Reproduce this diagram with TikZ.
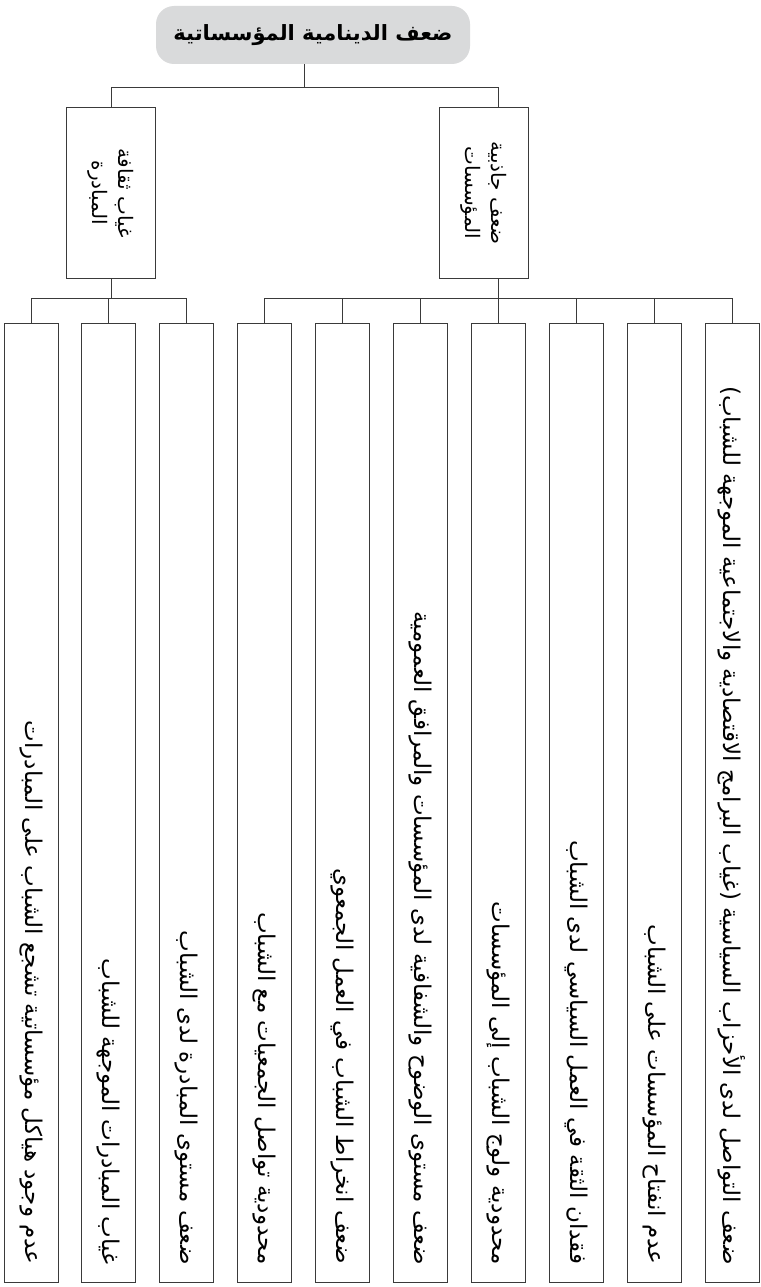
\documentclass[tikz,border=0pt]{standalone}
\usepackage{fontspec}
\usepackage{graphicx}
\newfontfamily\arabicfont[Script=Arabic]{DejaVu Sans}
\TeXXeTstate=1
\usetikzlibrary{positioning}
\definecolor{linegray}{HTML}{3A3A3A}
\definecolor{titlegray}{HTML}{D9DADB}
\tikzset{titlebox/.style={fill=titlegray,rounded corners=18pt,minimum width=314pt,minimum height=58pt,inner sep=0,
        font=\arabicfont\bfseries\fontsize{21}{25}\selectfont},
    midcell/.style={draw=linegray,line width=1pt,minimum width=89pt,minimum height=170pt,inner sep=0,
        font=\arabicfont\fontsize{20}{26}\selectfont},
    leafcell/.style={draw=linegray,line width=1pt,minimum width=54pt,minimum height=959pt,inner sep=0,
        font=\arabicfont\fontsize{23}{27}\selectfont},
    joint/.style={draw=linegray,line width=1pt}
}
\newcommand{\rtl}[1]{\beginR #1\endR}
\newcommand{\uptext}[2]
{%
% args: (length of the column, text that starts at the bottom)
    \rotatebox{-90}{\makebox[#1][r]{\rtl{#2}}}%
}
\newcommand{\twolines}[2]
{%
% args: (first line, second line), turned on its side
    \rotatebox{-90}{\begin{tabular}{@{}c@{}}\rtl{#1}\\\rtl{#2}\end{tabular}}%
}

\begin{document}
\begin{tikzpicture}[x=1pt,y=-1pt]
\useasboundingbox (0,0) rectangle (760,1287);

\node (title) [titlebox] at (313,35) {\rtl{ضعف الدينامية المؤسساتية}};

\node (culture) [midcell] at (111,193) {\twolines{غياب ثقافة}{المبادرة}};
\node (appeal) [midcell] at (483.5,193) {\twolines{ضعف جاذبية}{المؤسسات}};

\coordinate (split) at (304.8,88);
\draw [joint] (title.south -| split) -- (split);
\draw [joint] (split) -| (culture.north);
\draw [joint] (split) -| ([xshift=15pt]appeal.north);

\foreach \i/\txt [evaluate=\i as \x using {31+77.9*(\i-1)}] in
    {1/عدم وجود هياكل مؤسساتية تشجع الشباب على المبادرات,
     2/غياب المبادرات الموجهة للشباب,
     3/ضعف مستوى المبادرة لدى الشباب,
     4/محدودية تواصل الجمعيات مع الشباب,
     5/ضعف انخراط الشباب في العمل الجمعوي,
     6/ضعف مستوى الوضوح والشفافية لدى المؤسسات والمرافق العمومية,
     7/محدودية ولوج الشباب إلى المؤسسات,
     8/فقدان الثقة في العمل السياسي لدى الشباب,
     9/عدم انفتاح المؤسسات على الشباب,
     10/ضعف التواصل لدى الأحزاب السياسية (غياب البرامج الاقتصادية والاجتماعية الموجهة للشباب)}
{
    \node (leaf\i) [leafcell] at (\x,802.5) {\uptext{924pt}{\txt}};
}

\foreach \i in {1,2,3}
    \draw [joint] (culture.south) -- ++(0,20) -| (leaf\i.north);
\foreach \i in {4,...,10}
    \draw [joint] ([xshift=15pt]appeal.south) -- ++(0,20) -| (leaf\i.north);

\end{tikzpicture}
\end{document}
